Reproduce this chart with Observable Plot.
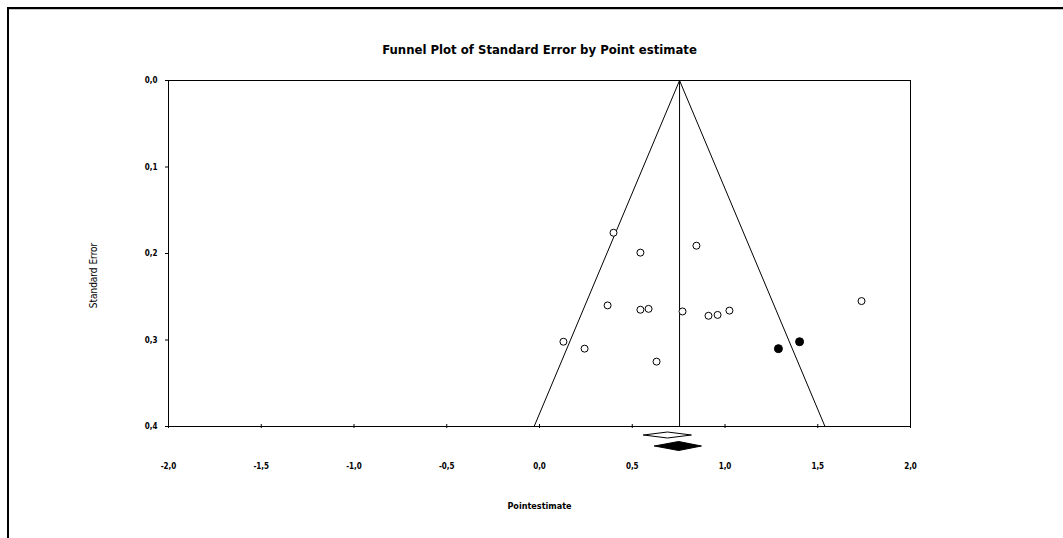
<!DOCTYPE html>
<html>
<head>
<meta charset="utf-8">
<script src="https://cdn.jsdelivr.net/npm/d3@7"></script>
<script src="https://cdn.jsdelivr.net/npm/@observablehq/plot@0.6"></script>
<style>
  html, body { margin: 0; padding: 0; background: #fff; }
  #wrap { position: relative; width: 1063px; height: 538px; overflow: hidden; }
  #border { position: absolute; left: 7px; top: 7px; right: 0; bottom: -5px;
            border-top: 2px solid #000; border-left: 2px solid #000; }
  #border2 { position: absolute; left: 9px; top: 9px; right: 0; height: 1px; background: #c8c8c8; }
  #chart { position: absolute; left: 0; top: 0; }
</style>
</head>
<body>
<div id="wrap"><div id="chart"></div><div id="border"></div><div id="border2"></div></div>
<script>
// Observed studies (open circles)
const studyEstimate = [0.399, 0.544, 0.846, 0.367, 0.544, 0.588, 0.771, 0.911, 0.960, 1.024, 1.736, 0.129, 0.243, 0.631];
const studySE       = [0.176, 0.199, 0.191, 0.260, 0.265, 0.264, 0.267, 0.272, 0.271, 0.266, 0.255, 0.302, 0.310, 0.325];
// Imputed studies (filled circles)
const imputedEstimate = [1.288, 1.402];
const imputedSE       = [0.310, 0.302];
// Summary diamonds: observed (open) and adjusted (filled)
const summaryLabel = ["observed", "adjusted"];
const summaryEst   = [0.690, 0.750];
const summaryLow   = [0.561, 0.620];
const summaryHigh  = [0.819, 0.873];
// Funnel centre
const funnelCenter = 0.755;
const xTicks = [-2, -1.5, -1, -0.5, 0, 0.5, 1, 1.5, 2];
const yTicks = [0, 0.1, 0.2, 0.3, 0.4];

const fmt = d => d3.format(".1f")(d).replace(".", ",").replace("−", "-");

const observed = studyEstimate.map((x, i) => ({x, y: studySE[i]}));
const imputed = imputedEstimate.map((x, i) => ({x, y: imputedSE[i]}));
const seMax = 0.4;
const funnel = [
  {x: funnelCenter - 1.96 * seMax, y: seMax},
  {x: funnelCenter, y: 0},
  {x: funnelCenter + 1.96 * seMax, y: seMax}
];
// diamond layout (below the axis): row offset and half height in SE units
const pxPerUnit = 865;
const rowY = [0.4 + 8.5 / pxPerUnit, 0.4 + 19.5 / pxPerUnit];
const halfH = [3 / pxPerUnit, 4.5 / pxPerUnit];
const diamonds = summaryLabel.flatMap((id, i) => [
  {id, x: summaryLow[i], y: rowY[i]},
  {id, x: summaryEst[i], y: rowY[i] - halfH[i]},
  {id, x: summaryHigh[i], y: rowY[i]},
  {id, x: summaryEst[i], y: rowY[i] + halfH[i]},
  {id, x: summaryLow[i], y: rowY[i]}
]);

const chart = Plot.plot({
  width: 1063,
  height: 538,
  marginLeft: 168,
  marginRight: 153,
  marginTop: 80,
  marginBottom: 112,
  style: {fontFamily: "'Liberation Sans Narrow', 'Arial Narrow', 'DejaVu Sans Condensed', sans-serif", fontWeight: "bold", color: "#000", background: "transparent"},
  x: {domain: [-2, 2]},
  y: {domain: [0, 0.4], reverse: true},
  marks: [
    Plot.frame({stroke: "#000", strokeWidth: 1}),
    Plot.axisY({ticks: yTicks, tickSize: 3, tickPadding: 8, tickFormat: fmt, fontSize: 8, label: null}),
    Plot.axisX({ticks: xTicks, tickSize: 4, dy: -2, tickFormat: () => "", label: null}),
    Plot.axisX({ticks: xTicks, tickSize: 0, tickPadding: 37, tickFormat: fmt, fontSize: 8, label: null}),
    Plot.line(funnel, {x: "x", y: "y", stroke: "#000", strokeWidth: 1}),
    Plot.ruleX([funnelCenter], {y1: 0, y2: seMax, stroke: "#000", strokeWidth: 1}),
    Plot.line(diamonds, {x: "x", y: "y", z: "id", stroke: "#000", strokeWidth: 1,
      fill: d => d.id === "adjusted" ? "#000" : "#fff"}),
    Plot.dot(observed, {x: "x", y: "y", r: 3.5, stroke: "#000", fill: "#fff", strokeWidth: 1}),
    Plot.dot(imputed, {x: "x", y: "y", r: 4, stroke: "#000", fill: "#000", strokeWidth: 1}),
    Plot.text(["Funnel Plot of Standard Error by Point estimate"], {frameAnchor: "top", dy: -36, fontSize: 13}),
    Plot.text(["Standard Error"], {frameAnchor: "left", textAnchor: "middle", dx: -75, dy: 22, rotate: -90, fontSize: 10, fontWeight: "normal"}),
    Plot.text(["Pointestimate"], {frameAnchor: "bottom", dy: 82, fontSize: 9})
  ]
});
document.getElementById("chart").appendChild(chart);
</script>
</body>
</html>
